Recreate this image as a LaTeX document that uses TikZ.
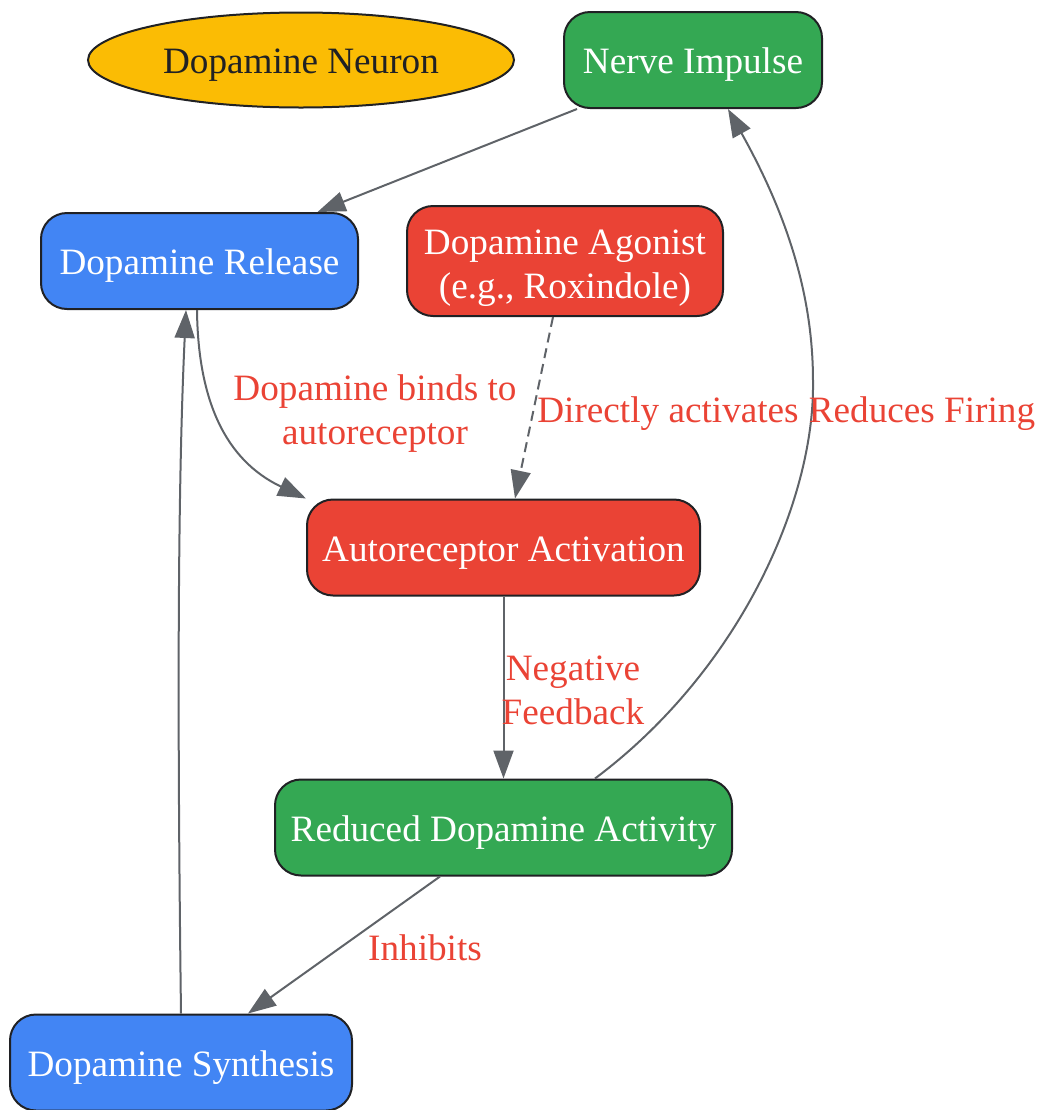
\documentclass[tikz,border=0pt]{standalone}
\usepackage{fontspec}
\setmainfont{Liberation Serif}
\usetikzlibrary{arrows.meta,shapes.geometric}
\definecolor{gblue}{HTML}{4285F4}
\definecolor{gred}{HTML}{EA4335}
\definecolor{ggreen}{HTML}{34A853}
\definecolor{gyellow}{HTML}{FBBC04}
\definecolor{edgegray}{HTML}{5F6368}
\definecolor{outline}{HTML}{202124}
\tikzset{
  box/.style={draw=outline, line width=1pt, rounded corners=13pt, text=white,
    align=center, inner sep=0pt, minimum height=48pt, text height=17.5pt, text depth=4pt},
  edge/.style={draw=edgegray, line width=1pt, -{Triangle[length=14pt,width=10pt]}},
  lbl/.style={text=gred, align=center, inner sep=0pt}
}
\begin{document}
\begin{tikzpicture}[x=0.5pt, y=-0.5pt, font=\fontsize{18.6}{22}\selectfont]
  \useasboundingbox (0,0) rectangle (1038,1110);
  % nodes
  \node [ellipse, draw=outline, line width=1pt, fill=gyellow, text=outline,
    minimum width=213pt, minimum height=47.5pt, inner sep=0pt,
    text height=17.5pt, text depth=4pt] (neuron) at (301,60) {Dopamine Neuron};
  \node [box, fill=ggreen, minimum width=129pt] (nerve) at (693,60) {Nerve Impulse};
  \node [box, fill=gblue, minimum width=158.5pt] (release) at (199.5,261) {Dopamine Release};
  \node [box, fill=gred, minimum width=158pt, minimum height=55pt,
    text height=41.2pt] (agonist) at (565,261) {Dopamine Agonist\\(e.g., Roxindole)};
  \node [box, fill=gred, minimum width=196.5pt] (auto) at (503.5,547.5) {Autoreceptor Activation};
  \node [box, fill=ggreen, minimum width=228.5pt] (reduced) at (503.5,827.5) {Reduced Dopamine Activity};
  \node [box, fill=gblue, minimum width=171pt] (synth) at (181,1062.5) {Dopamine Synthesis};
  % connectors
  \draw [edge] ([xshift=-58pt]nerve.south) -- ([xshift=59pt]release.north);
  \draw [edge] ([xshift=-1.25pt]release.south) .. controls (198,400) and (225,460) .. (auto.north west);
  \node [lbl] (bindlbl) at (375,414) {Dopamine binds to\\autoreceptor};
  \draw [edge, dashed, dash pattern=on 5pt off 3pt] ([xshift=-6pt]agonist.south) -- ([xshift=5.75pt]auto.north);
  \node [lbl] (directlbl) at (668,414) {Directly activates};
  \draw [edge] (auto.south) -- (reduced.north);
  \node [lbl] (feedlbl) at (573,690) {Negative\\Feedback};
  \draw [edge] ([xshift=45.75pt]reduced.north) .. controls (740,670) and (815,500) .. (813,381)
    .. controls (813,300) and (790,220) .. ([xshift=17.5pt]nerve.south);
  \node [lbl] (firinglbl) at (922,414) {Reduces Firing};
  \draw [edge] ([xshift=-31.75pt]reduced.south) -- ([xshift=33.5pt]synth.north);
  \node [lbl] (inhiblbl) at (425,948) {Inhibits};
  \draw [edge] (synth.north) .. controls (177,700) and (178,480) .. ([xshift=-6.75pt]release.south);
\end{tikzpicture}
\end{document}
